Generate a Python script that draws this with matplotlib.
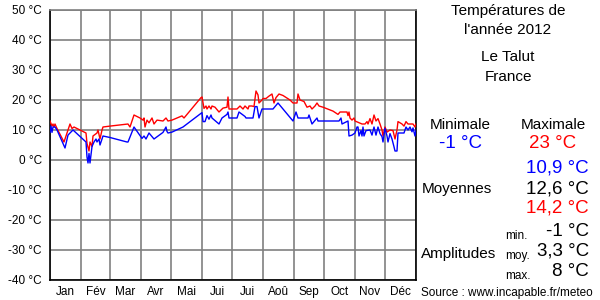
import matplotlib.pyplot as plt

plt.rcParams['font.family'] = ['Liberation Sans', 'DejaVu Sans']

# day of year (0 = 1 Jan 2012) and daily values
max_days = [0, 2, 3, 4, 5, 7, 14, 20, 22, 24, 36, 37, 39, 40, 42, 43, 47, 48, 50, 52, 53, 60,
            78, 80, 84, 90, 93, 94, 95, 97, 99, 102, 104, 107, 113, 116, 118, 122, 132, 134,
            151, 152, 154, 156, 157, 159, 161, 162, 165, 169, 173, 177, 178, 179, 187, 190,
            193, 195, 198, 199, 202, 204, 206, 208, 209, 212, 213, 216, 219, 222, 224, 226,
            229, 233, 240, 243, 247, 248, 250, 254, 257, 260, 262, 265, 267, 269, 273, 283,
            288, 290, 297, 298, 299, 300, 302, 304, 305, 312, 315, 317, 318, 320, 322, 324,
            326, 328, 330, 332, 333, 335, 337, 340, 343, 345, 347, 348, 352, 354, 356, 358,
            363, 365, 366]
max_vals = [13, 11.3, 12, 11, 12, 10.5, 6, 12, 10.5, 11, 9, 5.5, 3, 6, 4.5, 8, 9, 10, 7, 10,
            11, 11.3, 12, 11, 15, 14, 13.3, 14, 11, 13.3, 12.4, 14, 12, 13.3, 13, 14, 13, 13.3,
            14.7, 14, 20.8, 21, 17.2, 18, 17, 18, 17, 18, 17.6, 16, 17.3, 17.6, 21, 17, 17, 18,
            17, 18, 17, 18, 18, 17.8, 23, 21.7, 19, 20, 20.5, 20.5, 21.3, 22, 19, 20.8, 22, 21.5,
            20, 19, 19, 22, 20, 19.5, 17.6, 18, 17, 18, 19, 18, 17.6, 16.3, 15.2, 16, 16, 14.8,
            16, 14, 13.3, 14, 13, 12, 12, 12.8, 12, 13.8, 12, 15, 13, 13.8, 12, 10, 8, 11, 9.3,
            10, 9.8, 7, 10, 12.8, 12, 11.3, 12.8, 12, 12, 11, 12]

min_days = [0, 1, 2, 3, 5, 7, 15, 18, 20, 23, 36, 37, 38, 39, 40, 42, 44, 46, 47, 49, 50, 52,
            53, 60, 77, 78, 84, 92, 94, 96, 99, 104, 113, 116, 117, 118, 122, 133, 152, 153,
            155, 157, 159, 161, 162, 169, 172, 177, 178, 179, 187, 189, 195, 196, 203, 205,
            207, 209, 212, 223, 228, 243, 246, 248, 258, 259, 262, 267, 268, 289, 291, 292,
            298, 299, 302, 305, 307, 308, 309, 311, 312, 313, 314, 316, 320, 322, 324, 326,
            328, 330, 332, 333, 335, 337, 338, 340, 342, 344, 345, 347, 348, 354, 356, 358,
            360, 362, 363, 365, 366]
min_vals = [9.2, 11.3, 9.2, 11, 11, 10, 4, 8.3, 9, 10, 6, 1, -1, 2.2, -1, 4.5, 6, 7, 6, 7, 5,
            7, 8, 7.5, 6, 6, 11, 7.2, 8, 7, 9, 7, 9.2, 11, 9.5, 9, 9.3, 11, 15.8, 12.8, 12.8,
            14.8, 13.6, 15, 14, 12, 14, 15.2, 16, 14, 14, 16, 14.5, 14, 14, 17.8, 17.8, 14, 17,
            17, 19, 13, 16, 14, 14, 15, 12, 14, 13, 13, 14, 12, 13, 8, 8.3, 9, 11, 11, 8, 9.8,
            8, 11, 8, 9.8, 10, 8.3, 11, 8.3, 11, 8.8, 7.8, 6, 10.6, 8, 6, 8.8, 7, 4.4, 3, 3, 9,
            9, 11, 10, 11, 9.4, 10.7, 8, 10]

month_labels = ['Jan', 'Fév', 'Mar', 'Avr', 'Mai', 'Jui', 'Jui', 'Aoû', 'Sep', 'Oct', 'Nov', 'Déc']
month_starts = [0, 31, 60, 91, 121, 152, 182, 213, 244, 274, 305, 335, 366]
y_ticks = list(range(-40, 51, 10))

fig = plt.figure(figsize=(6, 3), dpi=100)
ax = fig.add_axes([50 / 600, 20 / 300, 366 / 600, 270 / 300])

ax.plot(max_days, max_vals, color='#ff0000', linewidth=1, zorder=3)
ax.plot(min_days, min_vals, color='#0000ff', linewidth=1, zorder=3)

ax.set_xlim(0, 366)
ax.set_ylim(-40, 50)

ax.set_yticks(y_ticks)
ax.set_yticklabels([f'{t} °C' for t in y_ticks], fontsize=8.5)
ax.set_xticks(month_starts)
ax.set_xticklabels([])
mids = [(a + b) / 2 for a, b in zip(month_starts[:-1], month_starts[1:])]
ax.set_xticks(mids, minor=True)
ax.set_xticklabels(month_labels, minor=True, fontsize=8.5)
ax.tick_params(which='both', length=0)
ax.tick_params(axis='y', pad=6)
ax.tick_params(axis='x', which='minor', pad=4)

ax.grid(True, which='major', color='#808080', linewidth=1.2)
ax.set_axisbelow(True)
for s in ['left', 'right', 'bottom']:
    ax.spines[s].set_color('black')
    ax.spines[s].set_linewidth(1.2)
ax.spines['top'].set_color('#808080')
ax.spines['top'].set_linewidth(1.2)

# right-hand panel
def t(x, y, s, size=11, color='black', ha='center'):
    fig.text(x / 600, 1 - y / 300, s, fontsize=size, color=color, ha=ha, va='center')

t(508, 11, 'Températures de')
t(508, 30, "l'année 2012")
t(508, 57, 'Le Talut')
t(508, 77, 'France')
t(460, 125, 'Minimale')
t(553, 125, 'Maximale')
t(460, 144, '-1 °C', 13.5, '#0000ff')
t(553, 144, '23 °C', 13.5, '#ff0000')
t(589, 168, '10,9 °C', 13.5, '#0000ff', 'right')
t(457, 189, 'Moyennes')
t(589, 189, '12,6 °C', 13.5, 'black', 'right')
t(589, 208, '14,2 °C', 13.5, '#ff0000', 'right')
t(505, 236, 'min.', 8.5, ha='left')
t(589, 231, '-1 °C', 13.5, ha='right')
t(421, 254, 'Amplitudes', ha='left')
t(505, 256, 'moy.', 8.5, ha='left')
t(589, 251, '3,3 °C', 13.5, ha='right')
t(505, 276, 'max.', 8.5, ha='left')
t(589, 271, '8 °C', 13.5, ha='right')
t(421, 293, 'Source : www.incapable.fr/meteo', 8.5, ha='left')

fig.savefig('out.png', dpi=100)
